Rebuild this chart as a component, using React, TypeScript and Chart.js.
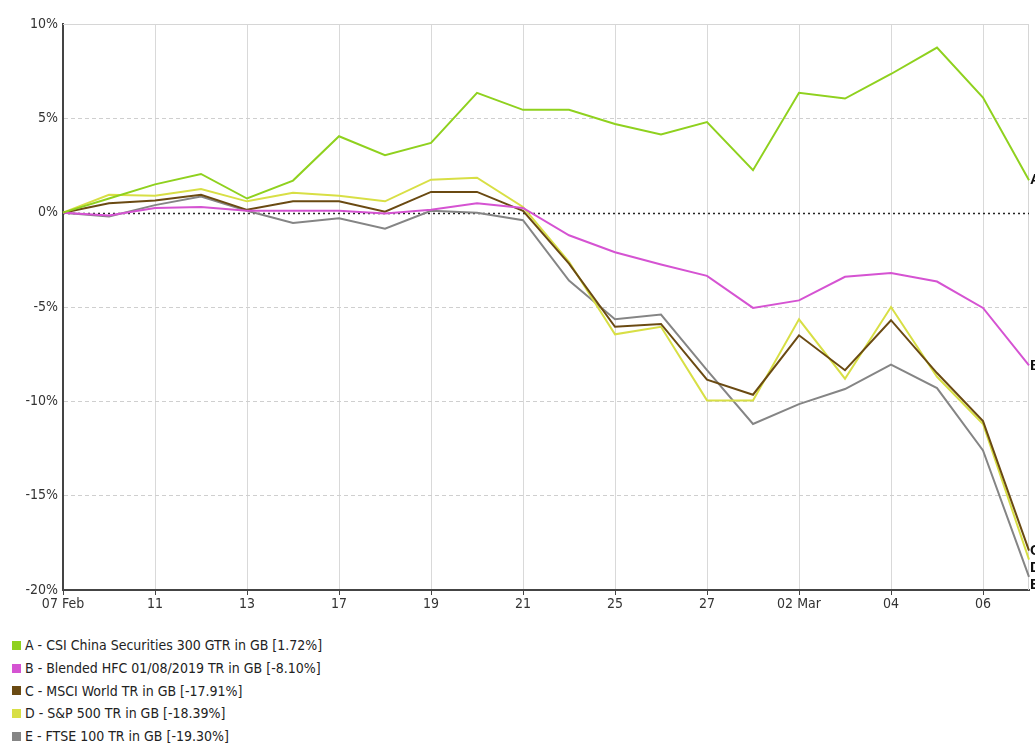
import React, { useRef, useEffect } from 'react';
import { Chart, registerables } from 'chart.js';

Chart.register(...registerables);

const FONT = '"Liberation Sans Narrow", "Arial Narrow", "DejaVu Sans Condensed", sans-serif';

// trading days 07 Feb - 09 Mar
const dates = ['07 Feb', '10', '11', '12', '13', '14', '17', '18', '19', '20', '21', '24', '25', '26', '27', '28', '02 Mar', '03', '04', '05', '06', '09'];

const csiChina = [0, 0.75, 1.5, 2.05, 0.75, 1.7, 4.05, 3.05, 3.7, 6.35, 5.45, 5.45, 4.7, 4.15, 4.8, 2.25, 6.35, 6.05, 7.35, 8.75, 6.1, 1.72];
const blendedHfc = [0, -0.15, 0.25, 0.3, 0.1, 0.1, 0.1, -0.05, 0.15, 0.5, 0.25, -1.2, -2.1, -2.75, -3.35, -5.05, -4.65, -3.4, -3.2, -3.65, -5.05, -8.1];
const msciWorld = [0, 0.5, 0.65, 0.95, 0.15, 0.6, 0.6, 0.05, 1.1, 1.1, 0.1, -2.7, -6.05, -5.9, -8.85, -9.65, -6.5, -8.35, -5.7, -8.5, -11.05, -17.91];
const sp500 = [0, 0.95, 0.9, 1.25, 0.6, 1.05, 0.9, 0.6, 1.75, 1.85, 0.3, -2.6, -6.45, -6.05, -9.95, -9.95, -5.65, -8.8, -5.0, -8.7, -11.2, -18.39];
const ftse100 = [0, -0.2, 0.4, 0.85, 0.1, -0.55, -0.3, -0.85, 0.1, 0, -0.4, -3.6, -5.65, -5.4, -8.35, -11.2, -10.15, -9.35, -8.05, -9.3, -12.6, -19.3];

const letters = ['A', 'B', 'C', 'D', 'E'];
const seriesNames = [
  'A - CSI China Securities 300 GTR in GB [1.72%]',
  'B - Blended HFC 01/08/2019 TR in GB [-8.10%]',
  'C - MSCI World TR in GB [-17.91%]',
  'D - S&P 500 TR in GB [-18.39%]',
  'E - FTSE 100 TR in GB [-19.30%]',
];
const seriesColors = ['#8fd11e', '#d553d2', '#6a4a12', '#d8df45', '#858585'];
const seriesData = [csiChina, blendedHfc, msciWorld, sp500, ftse100];

// top border + dotted zero line
const gridExtras = {
  id: 'gridExtras',
  beforeDatasetsDraw(chart: any) {
    const { ctx, chartArea, scales } = chart;
    ctx.save();
    ctx.strokeStyle = '#d6d6d6';
    ctx.lineWidth = 1;
    ctx.beginPath();
    ctx.moveTo(chartArea.left, chartArea.top + 0.5);
    ctx.lineTo(chartArea.right, chartArea.top + 0.5);
    ctx.moveTo(chartArea.right - 0.5, chartArea.top);
    ctx.lineTo(chartArea.right - 0.5, chartArea.bottom);
    ctx.stroke();
    const y0 = Math.round(scales.y.getPixelForValue(0)) + 0.5;
    ctx.strokeStyle = '#222';
    ctx.lineWidth = 1.5;
    ctx.setLineDash([2, 3]);
    ctx.beginPath();
    ctx.moveTo(chartArea.left, y0);
    ctx.lineTo(chartArea.right, y0);
    ctx.stroke();
    ctx.restore();
  },
};

// letters at the end of each line
const endLabels = {
  id: 'endLabels',
  afterDatasetsDraw(chart: any) {
    const { ctx, chartArea } = chart;
    const items = chart.data.datasets.map((ds: any, i: number) => {
      const meta = chart.getDatasetMeta(i);
      const pt = meta.data[meta.data.length - 1];
      return { y: pt.y, text: letters[i] };
    }).sort((a: any, b: any) => a.y - b.y);
    for (let i = 1; i < items.length; i++) {
      if (items[i].y - items[i - 1].y < 17) items[i].y = items[i - 1].y + 17;
    }
    ctx.save();
    ctx.font = 'bold 15px "Liberation Sans", sans-serif';
    ctx.fillStyle = '#111';
    ctx.textBaseline = 'middle';
    ctx.textAlign = 'left';
    items.forEach((it: any) => ctx.fillText(it.text, chartArea.right + 1, it.y));
    ctx.restore();
  },
};

const ReturnsChart: React.FC = () => {
  const chartRef = useRef<HTMLCanvasElement>(null);
  const chartInstance = useRef<Chart | null>(null);

  useEffect(() => {
    if (!chartRef.current) return;
    if (chartInstance.current) chartInstance.current.destroy();

    const ctx = chartRef.current.getContext('2d');
    if (!ctx) return;

    chartInstance.current = new Chart(ctx, {
      type: 'line',
      data: {
        labels: dates,
        datasets: seriesData.map((d, i) => ({
          label: seriesNames[i],
          data: d,
          borderColor: seriesColors[i],
          backgroundColor: seriesColors[i],
          borderWidth: 2,
          pointRadius: 0,
          tension: 0,
          fill: false,
        })),
      },
      options: {
        responsive: true,
        maintainAspectRatio: false,
        animation: false,
        layout: { padding: { left: 0, right: 6, top: 24, bottom: 0 } },
        plugins: {
          legend: { display: false },
          tooltip: { enabled: false },
        },
        scales: {
          x: {
            offset: false,
            grid: {
              color: (c: any) => (c.index % 2 === 0 ? '#d9d9d9' : 'rgba(0,0,0,0)'),
              tickColor: (c: any) => (c.index % 2 === 0 ? '#444' : 'rgba(0,0,0,0)'),
              tickLength: 5,
              lineWidth: 1,
            },
            border: { color: '#444', width: 2 },
            ticks: {
              autoSkip: false,
              maxRotation: 0,
              padding: 1,
              color: '#333',
              font: { family: FONT, size: 14 },
              callback: (_v: any, idx: number) => (idx % 2 === 0 ? dates[idx] : ''),
            },
            afterFit: (scale: any) => { scale.height = 30; },
          },
          y: {
            min: -20,
            max: 10,
            ticks: {
              stepSize: 5,
              padding: 5,
              color: '#333',
              font: { family: FONT, size: 14 },
              callback: (v: any) => `${v}%`,
            },
            grid: {
              drawTicks: false,
              color: (c: any) => {
                const v = c.tick ? c.tick.value : 0;
                return v === 0 || v === 10 || v === -20 ? 'rgba(0,0,0,0)' : '#cfcfcf';
              },
            },
            border: { color: '#444', width: 2, dash: [4, 3] },
            afterFit: (scale: any) => { scale.width = 63; },
          },
        },
      },
      plugins: [gridExtras, endLabels],
    });

    return () => {
      if (chartInstance.current) {
        chartInstance.current.destroy();
        chartInstance.current = null;
      }
    };
  }, []);

  return (
    <div style={{ position: 'absolute', left: 0, top: 0, width: 1035, height: 620 }}>
      <canvas ref={chartRef} />
    </div>
  );
};

const App: React.FC = () => (
  <div style={{ position: 'fixed', left: 0, top: 0, width: 1035, height: 745, background: '#fff', overflow: 'hidden' }}>
    <ReturnsChart />
    <div style={{ position: 'absolute', left: 12, top: 634, fontFamily: FONT, fontSize: 14, color: '#222' }}>
      {seriesNames.map((name, i) => (
        <div key={name} style={{ height: 22.75, lineHeight: '22.75px', display: 'flex', alignItems: 'center' }}>
          <span style={{ display: 'inline-block', width: 9, height: 9, background: seriesColors[i], marginRight: 4 }} />
          <span>{name}</span>
        </div>
      ))}
    </div>
  </div>
);

export default App;
